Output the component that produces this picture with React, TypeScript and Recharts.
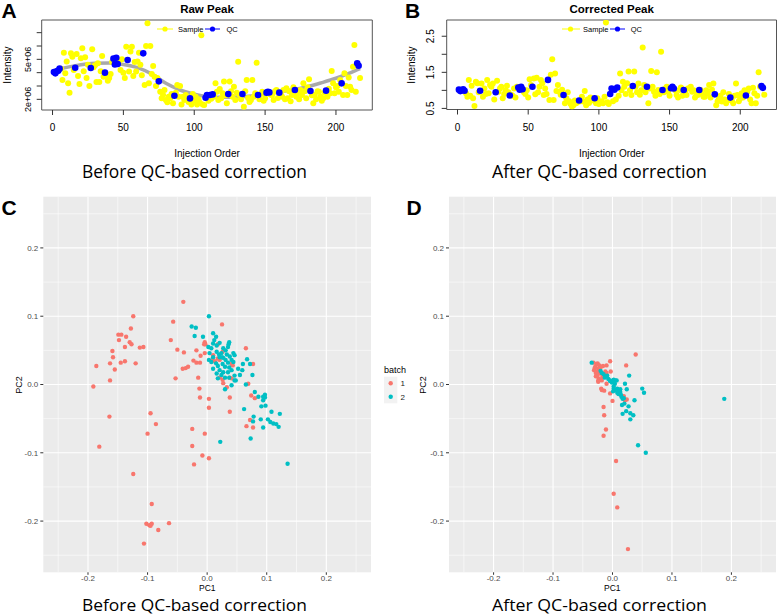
import React from 'react';
import {
  ComposedChart,
  ScatterChart,
  Scatter,
  Line,
  XAxis,
  YAxis,
  CartesianGrid,
  ReferenceArea,
} from 'recharts';

const W = 777;
const H = 615;
const FONT = '"Liberation Sans", Arial, Helvetica, sans-serif';

// ---------- Panels A / B : injection order ----------
const orderTicks = [0, 50, 100, 150, 200];
const rawTicks = [2, 3, 4, 5, 6, 7]; // x 1e6
const rawTickLabels: Record<number, string> = { 2: '2e+06', 5: '5e+06' };
const corrTicks = [0.5, 1, 1.5, 2, 2.5];
const corrTickLabels: Record<number, string> = { 0.5: '0.5', 1.5: '1.5', 2.5: '2.5' };

const qcOrder = [1, 2, 3, 4, 5, 16, 27, 37, 43, 44, 45, 46, 53, 64, 75, 86, 97, 108, 109, 111, 113, 124, 134, 145, 151, 152, 153, 160, 171, 182, 193, 204, 215, 216];
const qcRaw = [4.05, 3.95, 4.1, 4.15, 4.3, 4.37, 4.35, 4.0, 5.05, 4.62, 5.12, 4.65, 4.95, 5.45, 3.35, 2.27, 2.07, 2.12, 2.32, 2.32, 2.37, 2.4, 2.4, 2.32, 2.5, 2.57, 2.52, 2.5, 2.7, 2.62, 2.65, 3.2, 4.7, 4.52];
const qcCorrected = [1.02, 0.98, 1.0, 1.03, 0.99, 0.99, 0.95, 0.86, 1.08, 1.02, 1.1, 1.03, 1.1, 1.29, 0.87, 0.72, 0.78, 0.9, 1.05, 1.02, 1.08, 1.12, 1.1, 1.01, 1.06, 1.1, 1.05, 1.01, 1.01, 0.89, 0.8, 0.86, 1.12, 1.07];

const sampleOrder = [
  6, 7, 8, 9, 10, 11, 12, 13, 14, 15,
  17, 18, 19, 20, 21, 22, 23, 24, 25, 26,
  28, 29, 30, 31, 32, 33, 34, 35, 36,
  38, 39, 40, 41, 42,
  47, 48, 49, 50, 51, 52,
  54, 55, 56, 57, 58, 59, 60, 61, 62, 63,
  65, 66, 67, 68, 69, 70, 71, 72, 73, 74,
  76, 77, 78, 79, 80, 81, 82, 83, 84, 85,
  87, 88, 89, 90, 91, 92, 93, 94, 95, 96,
  98, 99, 100, 101, 102, 103, 104, 105, 106, 107,
  110, 112,
  114, 115, 116, 117, 118, 119, 120, 121, 122, 123,
  125, 126, 127, 128, 129, 130, 131, 132, 133,
  135, 136, 137, 138, 139, 140, 141, 142, 143, 144,
  146, 147, 148, 149, 150,
  154, 155, 156, 157, 158, 159,
  161, 162, 163, 164, 165, 166, 167, 168, 169, 170,
  172, 173, 174, 175, 176, 177, 178, 179, 180, 181,
  183, 184, 185, 186, 187, 188, 189, 190, 191, 192,
  194, 195, 196, 197, 198, 199, 200, 201, 202, 203,
  205, 206, 207, 208, 209, 210, 211, 212, 213, 214,
  217,
];
const sampleRaw = [
  4.3, 3.45, 5.5, 3.95, 4.83, 3.2, 2.5, 5.45, 5.2, 4.2,
  5.4, 3.75, 3.15, 5.08, 5.83, 4.1, 5.15, 3.6, 4.6, 3.0,
  5.75, 4.4, 4.55, 3.3, 4.7, 3.3, 4.1, 5.25, 3.7,
  3.8, 3.4, 3.6, 3.9, 4.8,
  4.9, 4.2, 5.0, 4.0, 3.6, 5.95,
  4.08, 5.58, 5.95, 3.75, 4.8, 4.08, 4.83, 5.5, 4.6, 3.8,
  3.08, 6.0, 7.7, 3.2, 6.0, 3.9, 4.5, 3.7, 3.0, 3.6,
  2.57, 2.08, 2.32, 2.7, 1.95, 1.78, 2.2, 2.08, 2.4, 1.7,
  2.5, 3.08, 2.2, 3.0, 1.62, 2.2, 1.95, 2.32, 2.03, 1.8,
  1.62, 2.4, 1.9, 2.2, 1.62, 2.0, 1.75, 6.8, 1.62, 1.58,
  1.9, 2.05,
  2.2, 3.2, 2.57, 1.95, 2.78, 2.08, 2.45, 3.33, 2.3, 1.7,
  3.33, 2.6, 2.2, 2.95, 1.95, 2.5, 4.82, 2.32, 2.0,
  1.45, 2.6, 3.45, 2.1, 1.8, 1.95, 3.45, 2.2, 2.45, 4.75,
  2.0, 2.4, 2.57, 1.9, 2.08,
  2.35, 2.32, 1.95, 2.6, 2.7, 2.1,
  2.4, 2.2, 2.7, 2.0, 2.83, 2.08, 2.6, 1.85, 2.32, 2.9,
  2.2, 2.5, 2.0, 2.7, 2.32, 3.2, 2.6, 2.08, 2.9, 3.5,
  2.3, 1.7, 2.32, 2.0, 2.6, 2.57, 2.2, 1.9, 2.08, 2.5,
  2.2, 2.8, 2.45, 4.13, 3.2, 2.45, 2.9, 3.0, 2.57, 3.45,
  2.32, 3.95, 3.0, 2.32, 3.63, 2.95, 2.7, 4.45, 6.08, 2.57,
  3.6,
];
const sampleCorrected = [
  0.92, 0.82, 1.29, 0.85, 1.13, 0.78, 0.57, 1.24, 1.2, 0.95,
  1.19, 0.82, 1.05, 0.9, 1.29, 0.92, 1.15, 1.1, 1.19, 0.75,
  1.27, 0.96, 1.05, 1.1, 0.78, 0.9, 1.0, 1.13, 0.95,
  0.88, 0.85, 1.05, 0.8, 1.1,
  0.95, 0.9, 1.0, 0.8, 1.31, 1.15,
  1.33, 0.89, 1.35, 0.95, 1.1, 1.29, 1.2, 0.87, 1.05, 0.9,
  0.73, 1.43, 1.86, 0.73, 1.47, 0.98, 1.15, 0.96, 0.88, 1.02,
  0.64, 0.78, 0.95, 0.7, 0.62, 0.55, 0.59, 0.72, 0.64, 0.68,
  0.7, 0.82, 0.69, 0.98, 0.59, 0.75, 0.65, 0.8, 0.72, 0.73,
  0.64, 0.78, 0.62, 0.67, 0.7, 0.64, 0.82, 2.88, 0.67, 0.62,
  0.7, 0.75,
  0.85, 1.47, 1.0, 1.24, 1.1, 0.9, 1.2, 1.52, 1.0, 0.87,
  1.52, 1.1, 0.95, 1.19, 0.88, 1.0, 2.19, 1.15, 0.95,
  0.64, 1.05, 1.54, 1.1, 0.96, 0.85, 1.5, 1.01, 0.9, 2.07,
  0.95, 1.05, 1.1, 0.96, 0.85,
  1.0, 0.87, 0.8, 1.01, 1.08, 0.85,
  0.95, 0.87, 1.05, 1.06, 1.1, 0.96, 1.0, 0.8, 0.92, 0.87,
  1.01, 0.9, 0.82, 0.82, 1.0, 0.92, 1.15, 0.8, 1.02, 1.19,
  0.59, 0.7, 0.78, 0.85, 0.69, 0.95, 0.75, 0.64, 0.72, 0.9,
  0.72, 0.64, 0.85, 1.19, 0.87, 0.7, 0.78, 0.92, 0.8, 1.0,
  0.96, 1.05, 0.75, 0.64, 1.07, 0.92, 0.64, 0.85, 1.5, 1.1,
  0.88,
];

const loessOrder = [1, 10, 20, 30, 40, 50, 60, 70, 80, 90, 100, 110, 120, 130, 140, 150, 160, 170, 180, 190, 200, 210, 217];
const loessRaw = [4.15, 4.4, 4.6, 4.7, 4.72, 4.62, 4.38, 3.9, 3.2, 2.7, 2.38, 2.2, 2.15, 2.18, 2.25, 2.4, 2.55, 2.72, 2.95, 3.25, 3.58, 3.98, 4.3];

// ---------- Panels C / D : PCA ----------
const pcTicks = [-0.2, -0.1, 0, 0.1, 0.2];
const pcMinor = [-0.25, -0.15, -0.05, 0.05, 0.15, 0.25];

const beforeBatch1: [number, number][] = [
  [-0.04, 0.121], [-0.124, 0.1], [-0.057, 0.092], [0.025, 0.088], [-0.128, 0.082], [-0.149, 0.073], [-0.144, 0.073], [-0.136, 0.07],
  [-0.148, 0.065], [-0.13, 0.062], [-0.127, 0.059], [-0.138, 0.055], [-0.113, 0.054], [-0.107, 0.055], [-0.061, 0.065], [-0.159, 0.049],
  [-0.158, 0.04], [-0.186, 0.027], [-0.163, 0.031], [-0.155, 0.022], [-0.145, 0.032], [-0.138, 0.034], [-0.12, 0.031], [-0.163, 0.006],
  [-0.191, -0.003], [-0.05, 0.051], [-0.039, 0.047], [-0.041, 0.023], [-0.036, 0.024], [-0.032, 0.026], [-0.053, 0.009], [-0.023, 0.035],
  [-0.018, 0.032], [-0.012, 0.032], [-0.018, 0.05], [-0.011, 0.042], [-0.005, 0.059], [-0.004, 0.062], [-0.004, 0.046], [0.01, 0.043],
  [0.018, 0.059], [0.018, 0.038], [0.026, 0.048], [0.013, 0.034], [0.065, 0.053], [0.043, 0.028], [0.041, 0.03], [0.077, 0.03],
  [-0.015, 0.01], [0.021, 0.01], [0.027, 0.002], [0.026, 0.007], [0.038, 0.01], [0.033, -0.004], [0.041, 0.009], [0.069, 0.001],
  [-0.013, -0.006], [-0.012, -0.019], [0.038, -0.019], [0.074, -0.016], [0.08, -0.02], [0.003, -0.021], [0.003, -0.034], [0.038, -0.04],
  [-0.164, -0.047], [-0.095, -0.042], [-0.086, -0.058], [-0.1, -0.072], [-0.025, -0.065], [-0.004, -0.072], [0.066, -0.061], [0.072, -0.052],
  [0.077, -0.063], [-0.181, -0.091], [-0.025, -0.09], [-0.008, -0.104], [0.003, -0.108], [-0.022, -0.117], [-0.124, -0.131], [-0.093, -0.175],
  [-0.102, -0.204], [-0.097, -0.206], [-0.095, -0.207], [-0.093, -0.204], [-0.082, -0.213], [-0.064, -0.203], [-0.106, -0.233], [0.021, 0.036],
  [0.009, 0.036], [-0.003, 0.059],
];
const beforeBatch2: [number, number][] = [
  [0.003, 0.1], [-0.026, 0.085], [-0.019, 0.083], [-0.021, 0.071], [-0.007, 0.07], [0.01, 0.075], [0.015, 0.07], [0.01, 0.06],
  [0.016, 0.057], [0.021, 0.061], [0.037, 0.062], [0.035, 0.055], [0.036, 0.059], [0.002, 0.055], [0.007, 0.053], [0.027, 0.053],
  [0.031, 0.05], [0.004, 0.046], [0.016, 0.048], [0.02, 0.044], [0.024, 0.046], [0.044, 0.046], [0.046, 0.043], [0.01, 0.04],
  [0.003, 0.036], [0.007, 0.033], [0.021, 0.04], [0.027, 0.039], [0.031, 0.036], [0.038, 0.041], [0.041, 0.036], [0.044, 0.033],
  [0.015, 0.031], [0.018, 0.027], [0.026, 0.03], [0.03, 0.026], [0.035, 0.032], [0.01, 0.023], [0.021, 0.021], [0.027, 0.018],
  [0.037, 0.025], [0.041, 0.021], [0.035, 0.018], [0.052, 0.023], [0.06, 0.03], [0.067, 0.037], [0.072, 0.03], [0.059, 0.021],
  [0.076, 0.014], [0.046, 0.013], [0.055, 0.014], [0.016, 0.016], [0.024, 0.014], [0.03, 0.01], [0.037, 0.01], [0.018, 0.009],
  [0.046, 0.006], [0.03, -0.007], [0.041, -0.001], [0.065, 0.0], [0.08, -0.011], [0.086, -0.018], [0.094, -0.018], [0.094, -0.023],
  [0.097, -0.015], [0.097, -0.019], [0.098, -0.031], [0.091, -0.032], [0.062, -0.036], [0.078, -0.047], [0.077, -0.054], [0.09, -0.051],
  [0.094, -0.063], [0.108, -0.04], [0.102, -0.051], [0.106, -0.055], [0.111, -0.057], [0.116, -0.058], [0.12, -0.062], [0.122, -0.043],
  [0.073, -0.079], [0.022, -0.084], [0.135, -0.116], [0.012, 0.065], [0.025, 0.04], [0.033, 0.044], [0.048, 0.006],
];
const afterBatch1: [number, number][] = [
  [0.039, 0.044], [0.023, 0.028], [-0.004, 0.034], [-0.01, 0.028], [-0.003, 0.019], [-0.032, 0.032], [-0.025, 0.031], [-0.022, 0.028],
  [-0.029, 0.026], [-0.024, 0.023], [-0.031, 0.021], [-0.026, 0.019], [-0.021, 0.016], [-0.028, 0.012], [-0.023, 0.009], [-0.018, 0.006],
  [-0.027, 0.03], [-0.02, 0.025], [-0.026, 0.013], [-0.024, 0.006], [-0.019, -0.006], [-0.018, -0.008], [-0.012, 0.019], [-0.01, 0.017],
  [-0.01, 0.001], [-0.004, -0.013], [-0.014, -0.009], [0.0, -0.024], [0.019, -0.017], [0.021, -0.023], [0.024, -0.022], [-0.015, -0.033],
  [-0.014, -0.045], [-0.011, -0.066], [-0.015, -0.075], [0.006, -0.112], [0.002, -0.16], [0.008, -0.18], [0.026, -0.241], [-0.03, 0.024],
  [-0.022, 0.02], [-0.017, 0.011], [-0.016, 0.027], [-0.028, 0.017], [-0.024, 0.004],
];
const afterBatch2: [number, number][] = [
  [-0.035, 0.032], [-0.02, 0.02], [-0.018, 0.017], [-0.015, 0.015], [-0.011, 0.012], [-0.007, 0.008], [-0.004, 0.006], [0.002, 0.007],
  [0.005, 0.006], [0.007, 0.006], [-0.004, 0.005], [-0.001, 0.003], [0.004, 0.001], [0.002, -0.003], [0.005, -0.008], [0.008, -0.006],
  [0.01, -0.009], [0.013, -0.007], [0.002, -0.006], [0.008, -0.012], [0.013, -0.011], [0.021, 0.001], [0.028, 0.013], [0.024, -0.007],
  [0.015, -0.018], [0.017, -0.021], [0.02, -0.028], [0.016, -0.03], [0.027, -0.032], [0.023, -0.039], [0.017, -0.043], [0.03, -0.042],
  [0.035, -0.045], [0.03, -0.051], [0.037, -0.023], [0.05, -0.006], [0.053, -0.012], [0.043, -0.089], [0.056, -0.1], [0.188, -0.021],
  [0.001, -0.01], [-0.013, 0.01], [-0.009, 0.013], [0.01, -0.014], [0.014, -0.015], [0.019, -0.02],
];

// ---------- helpers ----------
type Rect = { l: number; t: number; r: number; b: number };
const AX = 30;
const marginFor = (p: Rect) => ({ left: p.l - AX, top: p.t, right: W - p.r, bottom: H - p.b - AX });

const rectA: Rect = { l: 41.7, t: 20, r: 372.3, b: 110 };
const rectB: Rect = { l: 446.7, t: 20, r: 776.5, b: 109.5 };
const rectC: Rect = { l: 43.3, t: 196.7, r: 371, b: 572.3 };
const rectD: Rect = { l: 449, t: 196.7, r: 776, b: 572.3 };

const orderDomain: [number, number] = [-7.64, 225.64];
const rawDomain: [number, number] = [1.2, 7.95];
const corrDomain: [number, number] = [0.47, 2.95];
const pcDomain: [number, number] = [-0.275, 0.275];

const zip = (xs: number[], ys: number[]) => xs.map((x, i) => ({ x, y: ys[i] }));
const pairs = (p: [number, number][]) => p.map(([x, y]) => ({ x, y }));

const dot = (fill: string, r: number) => (p: any) =>
  p.cx == null ? <g /> : <circle cx={p.cx} cy={p.cy} r={r} fill={fill} />;

const rotTick = (labels: Record<number, string>, dx: number, size: number) => (p: any) => {
  const t = labels[p.payload.value];
  if (!t) return <g />;
  const cx = p.x - dx;
  return (
    <text x={cx} y={p.y} transform={`rotate(-90 ${cx} ${p.y})`} textAnchor="middle" dominantBaseline="central" fontSize={size} fontFamily={FONT} fill="#000">
      {t}
    </text>
  );
};

const layer: React.CSSProperties = { position: 'absolute', left: 0, top: 0 };

const RPanel = ({ rect, yDomain, yTicks, tickFn, samples, qc, curve }: any) => (
  <div style={layer}>
    <ComposedChart width={W} height={H} margin={marginFor(rect)}>
      <XAxis
        type="number"
        dataKey="x"
        domain={orderDomain}
        allowDataOverflow
        ticks={orderTicks}
        interval={0}
        height={AX}
        axisLine={false}
        tickSize={5}
        tickMargin={9}
        tickLine={{ stroke: '#333' }}
        tick={{ fontSize: 10, fill: '#000', fontFamily: FONT }}
      />
      <YAxis
        type="number"
        dataKey="y"
        domain={yDomain}
        allowDataOverflow
        ticks={yTicks}
        interval={0}
        width={AX}
        axisLine={false}
        tickSize={5}
        tickMargin={0}
        tickLine={{ stroke: '#333' }}
        tick={tickFn}
      />
      <ReferenceArea x1={orderDomain[0]} x2={orderDomain[1]} y1={yDomain[0]} y2={yDomain[1]} fill="none" fillOpacity={0} stroke="#555" strokeWidth={1} ifOverflow="visible" />
      <Scatter data={samples} shape={dot('#FFFF00', 3)} isAnimationActive={false} />
      {curve ? (
        <Line data={curve} dataKey="y" type="monotone" stroke="#9a9a9a" strokeOpacity={0.85} strokeWidth={3.5} dot={false} isAnimationActive={false} />
      ) : null}
      <Scatter data={qc} shape={dot('#0000FF', 3.3)} isAnimationActive={false} />
    </ComposedChart>
  </div>
);

const PCPanel = ({ rect, b1, b2 }: any) => (
  <div style={layer}>
    <ScatterChart width={W} height={H} margin={marginFor(rect)}>
      <CartesianGrid fill="#EBEBEB" stroke="#FFFFFF" strokeWidth={0.55} horizontalValues={pcMinor} verticalValues={pcMinor} />
      <CartesianGrid stroke="#FFFFFF" strokeWidth={1.1} horizontalValues={pcTicks} verticalValues={pcTicks} />
      <XAxis
        type="number"
        dataKey="x"
        domain={pcDomain}
        allowDataOverflow
        ticks={pcTicks}
        interval={0}
        height={AX}
        axisLine={false}
        tickSize={2.5}
        tickMargin={0.5}
        tickLine={{ stroke: '#333' }}
        tickFormatter={(v: number) => v.toFixed(1)}
        tick={{ fontSize: 8, fill: '#4D4D4D', fontFamily: FONT }}
      />
      <YAxis
        type="number"
        dataKey="y"
        domain={pcDomain}
        allowDataOverflow
        ticks={pcTicks}
        interval={0}
        width={AX}
        axisLine={false}
        tickSize={3}
        tickMargin={2}
        tickLine={{ stroke: '#333' }}
        tickFormatter={(v: number) => v.toFixed(1)}
        tick={{ fontSize: 8, fill: '#4D4D4D', fontFamily: FONT }}
      />
      <Scatter data={b1} shape={dot('#F8766D', 2.2)} isAnimationActive={false} />
      <Scatter data={b2} shape={dot('#00BFC4', 2.2)} isAnimationActive={false} />
    </ScatterChart>
  </div>
);

const Labels = () => {
  const caption = { fontFamily: '"Open Sans", "Noto Sans", sans-serif', fontSize: 16.5, fill: '#000' } as const;
  const captionTop = { ...caption, fontSize: 17.5 } as const;
  const letter = { fontFamily: FONT, fontSize: 21, fontWeight: 700, fill: '#000' } as const;
  return (
    <svg width={W} height={H} style={{ ...layer, pointerEvents: 'none' }} fontFamily={FONT}>
      {/* panel letters */}
      <text x={1.5} y={18} {...letter}>A</text>
      <text x={405} y={18} {...letter}>B</text>
      <text x={1.5} y={215} {...letter}>C</text>
      <text x={406.5} y={215} {...letter}>D</text>

      {/* titles */}
      <text x={207} y={13.3} textAnchor="middle" fontSize={11.5} fontWeight={700}>Raw Peak</text>
      <text x={611.7} y={13.3} textAnchor="middle" fontSize={11.5} fontWeight={700}>Corrected Peak</text>

      {/* legends A / B */}
      <line x1={157} x2={173} y1={29} y2={29} stroke="#FFFF00" strokeWidth={1} />
      <circle cx={165} cy={29} r={2.6} fill="#FFFF00" />
      <text x={178} y={31.6} fontSize={7.5}>Sample</text>
      <line x1={205} x2={220} y1={29} y2={29} stroke="#0000FF" strokeWidth={1} />
      <circle cx={212.5} cy={29} r={2.6} fill="#0000FF" />
      <text x={226.5} y={31.6} fontSize={7.5}>QC</text>

      <line x1={562} x2={580} y1={29} y2={29} stroke="#FFFF00" strokeWidth={1} />
      <circle cx={570.5} cy={29} r={2.6} fill="#FFFF00" />
      <text x={583} y={31.6} fontSize={7.5}>Sample</text>
      <line x1={610} x2={625} y1={29} y2={29} stroke="#0000FF" strokeWidth={1} />
      <circle cx={617.5} cy={29} r={2.6} fill="#0000FF" />
      <text x={630.7} y={31.6} fontSize={7.5}>QC</text>

      {/* axis titles A / B */}
      <text x={7} y={65} transform="rotate(-90 7 65)" textAnchor="middle" dominantBaseline="central" fontSize={10}>Intensity</text>
      <text x={411} y={65} transform="rotate(-90 411 65)" textAnchor="middle" dominantBaseline="central" fontSize={10}>Intensity</text>
      <text x={207} y={156.5} textAnchor="middle" fontSize={10}>Injection Order</text>
      <text x={611.7} y={156.5} textAnchor="middle" fontSize={10}>Injection Order</text>

      {/* axis titles C / D */}
      <text x={207.3} y={591} textAnchor="middle" fontSize={8.5}>PC1</text>
      <text x={612.3} y={591} textAnchor="middle" fontSize={8.5}>PC1</text>
      <text x={19} y={385} transform="rotate(-90 19 385)" textAnchor="middle" dominantBaseline="central" fontSize={9}>PC2</text>
      <text x={422.7} y={385} transform="rotate(-90 422.7 385)" textAnchor="middle" dominantBaseline="central" fontSize={9}>PC2</text>

      {/* batch legend */}
      <text x={384} y={372.7} fontSize={9}>batch</text>
      <rect x={384} y={376.7} width={13.3} height={13.3} fill="#F2F2F2" />
      <rect x={384} y={390} width={13.3} height={13.3} fill="#F2F2F2" />
      <circle cx={390.7} cy={383.3} r={2.2} fill="#F8766D" />
      <circle cx={390.7} cy={396.7} r={2.2} fill="#00BFC4" />
      <text x={400.5} y={386.2} fontSize={8} fill="#1a1a1a">1</text>
      <text x={400.5} y={399.6} fontSize={8} fill="#1a1a1a">2</text>

      {/* captions */}
      <text x={82} y={178.3} textLength={225} lengthAdjust="spacingAndGlyphs" {...captionTop}>Before QC-based correction</text>
      <text x={492} y={178.3} textLength={215} lengthAdjust="spacingAndGlyphs" {...captionTop}>After QC-based correction</text>
      <text x={82} y={610.6} textLength={225} lengthAdjust="spacingAndGlyphs" {...caption}>Before QC-based correction</text>
      <text x={492} y={610.6} textLength={215} lengthAdjust="spacingAndGlyphs" {...caption}>After QC-based correction</text>
    </svg>
  );
};

export default function App() {
  const samplesA = zip(sampleOrder, sampleRaw);
  const qcA = zip(qcOrder, qcRaw);
  const samplesB = zip(sampleOrder, sampleCorrected);
  const qcB = zip(qcOrder, qcCorrected);
  const curveA = zip(loessOrder, loessRaw);
  return (
    <div style={{ position: 'absolute', left: 0, top: 0, width: W, height: H, background: '#fff', overflow: 'hidden' }}>
      <RPanel rect={rectA} yDomain={rawDomain} yTicks={rawTicks} tickFn={rotTick(rawTickLabels, 8.5, 9)} samples={samplesA} qc={qcA} curve={curveA} />
      <RPanel rect={rectB} yDomain={corrDomain} yTicks={corrTicks} tickFn={rotTick(corrTickLabels, 11, 10)} samples={samplesB} qc={qcB} curve={null} />
      <PCPanel rect={rectC} b1={pairs(beforeBatch1)} b2={pairs(beforeBatch2)} />
      <PCPanel rect={rectD} b1={pairs(afterBatch1)} b2={pairs(afterBatch2)} />
      <Labels />
    </div>
  );
}
